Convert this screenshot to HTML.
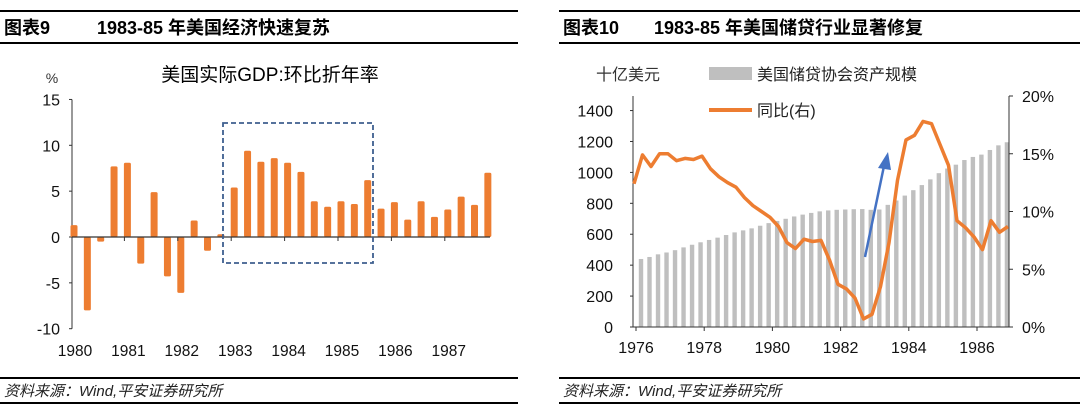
<!DOCTYPE html>
<html><head><meta charset="utf-8">
<style>
body{margin:0;width:1080px;height:419px;background:#fff;overflow:hidden;font-family:"Liberation Sans","Noto Sans CJK SC",sans-serif;}
svg{position:absolute;left:0;top:0}
</style></head>
<body>
<svg width="1080" height="419" font-family="Liberation Sans, Noto Sans CJK SC, sans-serif">
<g id="frame">
 <line x1="0" y1="11" x2="518" y2="11" stroke="#000" stroke-width="2"/>
 <line x1="0" y1="43" x2="518" y2="43" stroke="#000" stroke-width="2"/>
 <line x1="559" y1="11" x2="1080" y2="11" stroke="#000" stroke-width="2"/>
 <line x1="559" y1="43" x2="1080" y2="43" stroke="#000" stroke-width="2"/>
 <line x1="0" y1="378" x2="518" y2="378" stroke="#000" stroke-width="2"/>
 <line x1="0" y1="403" x2="518" y2="403" stroke="#000" stroke-width="2"/>
 <line x1="559" y1="378" x2="1080" y2="378" stroke="#000" stroke-width="2"/>
 <line x1="559" y1="403" x2="1080" y2="403" stroke="#000" stroke-width="2"/>
 <text x="4" y="34" font-size="18" font-weight="bold">图表9</text>
 <text x="97" y="34" font-size="18" font-weight="bold">1983-85 年美国经济快速复苏</text>
 <text x="563" y="34" font-size="18" font-weight="bold">图表10</text>
 <text x="654" y="34" font-size="18" font-weight="bold">1983-85 年美国储贷行业显著修复</text>
 <text x="4" y="396" font-size="15" font-style="italic" fill="#222">资料来源：Wind,平安证券研究所</text>
 <text x="563" y="396" font-size="15" font-style="italic" fill="#222">资料来源：Wind,平安证券研究所</text>
</g>
<g id="left"></g>
<g id="right"></g>
</svg>
<script>
const gdpYears=["1980","1981","1982","1983","1984","1985","1986","1987"];
const gdpValues=[1.3,-8.0,-0.5,7.7, 8.1,-2.9,4.9,-4.3, -6.1,1.8,-1.5,0.3, 5.4,9.4,8.2,8.6, 8.1,7.1,3.9,3.3, 3.9,3.6,6.2,3.1, 3.8,1.9,3.9,2.2, 3.0,4.4,3.5,7.0];
const gdpTicks=[15,10,5,0,-5,-10];
const slYears=["1976","1978","1980","1982","1984","1986"];
const slAssets=[440,453,470,482,497,515,532,548,563,578,595,612,625,638,655,672,686,700,715,727,738,748,754,758,760,762,763,758,760,790,818,850,885,918,955,995,1025,1050,1080,1100,1115,1145,1175,1195];
const slYoY=[12.4,14.9,13.9,15.0,15.0,14.4,14.6,14.5,14.8,13.7,13.0,12.5,12.1,11.2,10.5,10.0,9.5,8.7,7.3,6.8,7.6,7.4,7.5,5.8,3.7,3.3,2.5,0.7,1.1,3.5,7.3,12.7,16.2,16.6,17.8,17.6,15.8,14.0,9.2,8.6,7.8,6.7,9.2,8.2,8.7];
const slLeftTicks=[0,200,400,600,800,1000,1200,1400];
const slRightTicks=[0,5,10,15,20];

const NS="http://www.w3.org/2000/svg";
function mk(p,t,a,txt){const e=document.createElementNS(NS,t);for(const k in a)e.setAttribute(k,a[k]);if(txt!==undefined)e.textContent=txt;p.appendChild(e);return e;}

// LEFT
const L=document.getElementById('left');
const ly=v=>237-v*9.17;
const lx=i=>74+i*13.35;
let t=mk(L,'text',{x:270,y:81,'font-size':19,'text-anchor':'middle'},'美国实际GDP:环比折年率');


t=mk(L,'text',{x:52,y:83,'font-size':14,fill:'#333','text-anchor':'middle'},'%');


mk(L,'line',{x1:72,y1:ly(15),x2:72,y2:ly(-10),stroke:'#333'});
gdpTicks.forEach(v=>{
  mk(L,'line',{x1:69,y1:ly(v),x2:72,y2:ly(v),stroke:'#333'});
  const e=mk(L,'text',{x:60,y:ly(v)+6,'font-size':16,'text-anchor':'end',fill:'#111'},String(v));
  
  
});
gdpValues.forEach((v,i)=>{
  const y0=ly(0),y1=ly(v);
  const b=mk(L,'rect',{x:lx(i)-3.5,y:Math.min(y0,y1),width:7,height:Math.abs(y1-y0),fill:'#ED7D31',rx:1.5});
  
  
});
mk(L,'line',{x1:72,y1:ly(0),x2:490,y2:ly(0),stroke:'#333','stroke-width':1.3});
gdpYears.forEach((y,k)=>{
  if(k>0) mk(L,'line',{x1:lx(4*k)-3,y1:ly(0),x2:lx(4*k)-3,y2:ly(0)+4,stroke:'#333'});
  const e=mk(L,'text',{x:lx(4*k)+1,y:356,'font-size':15.5,'text-anchor':'middle',fill:'#111'},y);
  
  
});
const box=mk(L,'rect',{x:223,y:123,width:150,height:140,fill:'none',stroke:'#3E5F8F','stroke-width':1.8,'stroke-dasharray':'5,3'});



// RIGHT
const R=document.getElementById('right');
const ry=v=>327-v*0.1546;
const rp=v=>327-v*11.55;
const bx=i=>641+i*8.51;
const px=i=>634+i*8.5;
slAssets.forEach((v,i)=>{
  const b=mk(R,'rect',{x:bx(i)-2.2,y:ry(v),width:4.4,height:ry(0)-ry(v),fill:'#BFBFBF'});
  
  
});
mk(R,'line',{x1:633,y1:ry(0),x2:1009,y2:ry(0),stroke:'#333'});
mk(R,'line',{x1:633,y1:96,x2:633,y2:ry(0),stroke:'#333'});
mk(R,'line',{x1:1009,y1:96,x2:1009,y2:ry(0),stroke:'#333'});
slLeftTicks.forEach(v=>{
  mk(R,'line',{x1:630,y1:ry(v),x2:633,y2:ry(v),stroke:'#333'});
  const e=mk(R,'text',{x:613,y:ry(v)+6,'font-size':16,'text-anchor':'end',fill:'#111'},String(v));
  
  
});
slRightTicks.forEach(v=>{
  mk(R,'line',{x1:1009,y1:rp(v),x2:1013,y2:rp(v),stroke:'#333'});
  const e=mk(R,'text',{x:1022,y:rp(v)+6,'font-size':16,fill:'#111'},v+'%');
  
  
});
slYears.forEach((y,k)=>{
  const x=636+k*2*34.1;
  mk(R,'line',{x1:x,y1:ry(0),x2:x,y2:ry(0)+4,stroke:'#333'});
  const e=mk(R,'text',{x:x,y:353,'font-size':16,'text-anchor':'middle',fill:'#111'},y);
  
  
});
const pts=slYoY.map((v,i)=>px(i).toFixed(1)+','+rp(v).toFixed(1)).join(' ');
const ln=mk(R,'polyline',{points:pts,fill:'none',stroke:'#ED7D31','stroke-width':3.5,'stroke-linejoin':'round'});


const ar=mk(R,'g',{});


mk(ar,'line',{x1:865,y1:257,x2:884,y2:166,stroke:'#4472C4','stroke-width':2.5});
mk(ar,'polygon',{points:'888,152 878,168 891,170',fill:'#4472C4'});
t=mk(R,'text',{x:596,y:80,'font-size':16,fill:'#333'},'十亿美元');


const lg1=mk(R,'g',{});


mk(lg1,'rect',{x:709,y:67,width:43,height:13,fill:'#BFBFBF'});
mk(lg1,'text',{x:757,y:80,'font-size':16,fill:'#222'},'美国储贷协会资产规模');
const lg2=mk(R,'g',{});


mk(lg2,'line',{x1:709,y1:110,x2:752,y2:110,stroke:'#ED7D31','stroke-width':4});
mk(lg2,'text',{x:757,y:116,'font-size':16,fill:'#222'},'同比(右)');
</script>
</body></html>
